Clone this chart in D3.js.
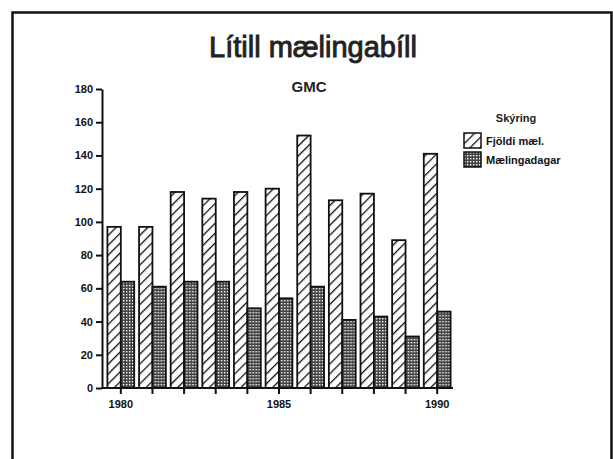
<!DOCTYPE html>
<html lang="en">
<head>
    <meta charset="UTF-8">
    <title>Lítill mælingabíll</title>
    <script src="https://d3js.org/d3.v7.min.js"></script>
    <style>
        body { margin: 0; background: #fff; }
        svg { display: block; font-family: "Liberation Sans", Arial, sans-serif; }
        .axis path, .axis line { stroke: #111; stroke-width: 2; }
        .axis text { font-size: 11px; font-weight: bold; fill: #111; }
    </style>
</head>
<body>
    <svg width="613" height="459"></svg>

    <script>
        // Data
        const years = [1980, 1981, 1982, 1983, 1984, 1985, 1986, 1987, 1988, 1989, 1990];
        const fjoldiMael = [97, 97, 118, 114, 118, 120, 152, 113, 117, 89, 141];
        const maelingadagar = [64, 61, 64, 64, 48, 54, 61, 41, 43, 31, 46];
        const seriesNames = ["Fjöldi mæl.", "Mælingadagar"];
        const yTicks = [0, 20, 40, 60, 80, 100, 120, 140, 160, 180];
        const xLabels = [1980, 1985, 1990];

        const svg = d3.select("svg");
        const margin = {top: 89, left: 102, bottom: 388, right: 453};

        // Patterns: diagonal hatch and fine checker
        const defs = svg.append("defs");
        const hatch = defs.append("pattern")
            .attr("id", "hatch")
            .attr("patternUnits", "userSpaceOnUse")
            .attr("width", 7).attr("height", 7)
            .attr("patternTransform", "rotate(45)");
        hatch.append("rect").attr("width", 7).attr("height", 7).attr("fill", "#fff");
        hatch.append("line")
            .attr("x1", 0).attr("y1", 0).attr("x2", 0).attr("y2", 7)
            .attr("stroke", "#111").attr("stroke-width", 2.6);

        const check = defs.append("pattern")
            .attr("id", "check")
            .attr("patternUnits", "userSpaceOnUse")
            .attr("width", 3).attr("height", 3);
        check.append("rect").attr("width", 3).attr("height", 3).attr("fill", "#444");
        check.append("rect").attr("width", 1.4).attr("height", 1.4).attr("fill", "#fff");

        // Page frame
        svg.append("path")
            .attr("d", "M12.5,470 V12.5 H611.5 V470")
            .attr("fill", "none").attr("stroke", "#111").attr("stroke-width", 2.5);

        // Titles
        svg.append("text")
            .attr("x", 313).attr("y", 57)
            .attr("text-anchor", "middle")
            .attr("font-size", 29).attr("fill", "#222")
            .attr("stroke", "#222").attr("stroke-width", 0.9)
            .text("Lítill mælingabíll");
        svg.append("text")
            .attr("x", 309).attr("y", 92)
            .attr("text-anchor", "middle")
            .attr("font-size", 15).attr("font-weight", "bold").attr("fill", "#222")
            .text("GMC");

        // Scales
        const x = d3.scaleBand()
            .domain(years)
            .range([margin.left + 3, margin.right])
            .padding(0);
        const inner = d3.scaleBand()
            .domain([0, 1])
            .range([0, x.bandwidth()])
            .paddingInner(0)
            .paddingOuter(0.18);
        const y = d3.scaleLinear()
            .domain([0, 180])
            .range([margin.bottom, margin.top]);

        // Bars
        const groups = svg.append("g").selectAll("g")
            .data(years)
            .join("g")
            .attr("transform", d => `translate(${x(d)},0)`);

        groups.selectAll("rect")
            .data((d, i) => [fjoldiMael[i], maelingadagar[i]])
            .join("rect")
            .attr("x", (d, j) => inner(j))
            .attr("width", inner.bandwidth())
            .attr("y", d => y(d))
            .attr("height", d => y(0) - y(d))
            .attr("fill", (d, j) => j === 0 ? "url(#hatch)" : "url(#check)")
            .attr("stroke", "#111")
            .attr("stroke-width", 1.8);

        // Axes
        const yAxis = d3.axisLeft(y)
            .tickValues(yTicks)
            .tickSize(6)
            .tickPadding(3)
            .tickSizeOuter(0);
        svg.append("g")
            .attr("class", "axis")
            .attr("transform", `translate(${margin.left},0)`)
            .call(yAxis);

        const xAxis = d3.axisBottom(x)
            .tickSize(6)
            .tickPadding(6)
            .tickSizeOuter(0)
            .tickFormat(d => xLabels.includes(d) ? d : "");
        const xg = svg.append("g")
            .attr("class", "axis")
            .attr("transform", `translate(0,${margin.bottom})`)
            .call(xAxis);
        xg.select(".domain").attr("d", `M${margin.left},0H${margin.right}`);

        // Legend
        const legend = svg.append("g").attr("transform", "translate(464,114)");
        legend.append("text")
            .attr("x", 52).attr("y", 8)
            .attr("text-anchor", "middle")
            .attr("font-size", 11).attr("font-weight", "bold").attr("fill", "#222")
            .text("Skýring");
        legend.selectAll("g.item")
            .data(seriesNames)
            .join("g")
            .attr("class", "item")
            .attr("transform", (d, i) => `translate(0,${19 + i * 19})`)
            .call(g => {
                g.append("rect")
                    .attr("width", 17).attr("height", 15)
                    .attr("fill", (d, i) => i === 0 ? "url(#hatch)" : "url(#check)")
                    .attr("stroke", "#111").attr("stroke-width", 1.5);
                g.append("text")
                    .attr("x", 22).attr("y", 12)
                    .attr("font-size", 11).attr("font-weight", "bold").attr("fill", "#111")
                    .text(d => d);
            });
    </script>
</body>
</html>
